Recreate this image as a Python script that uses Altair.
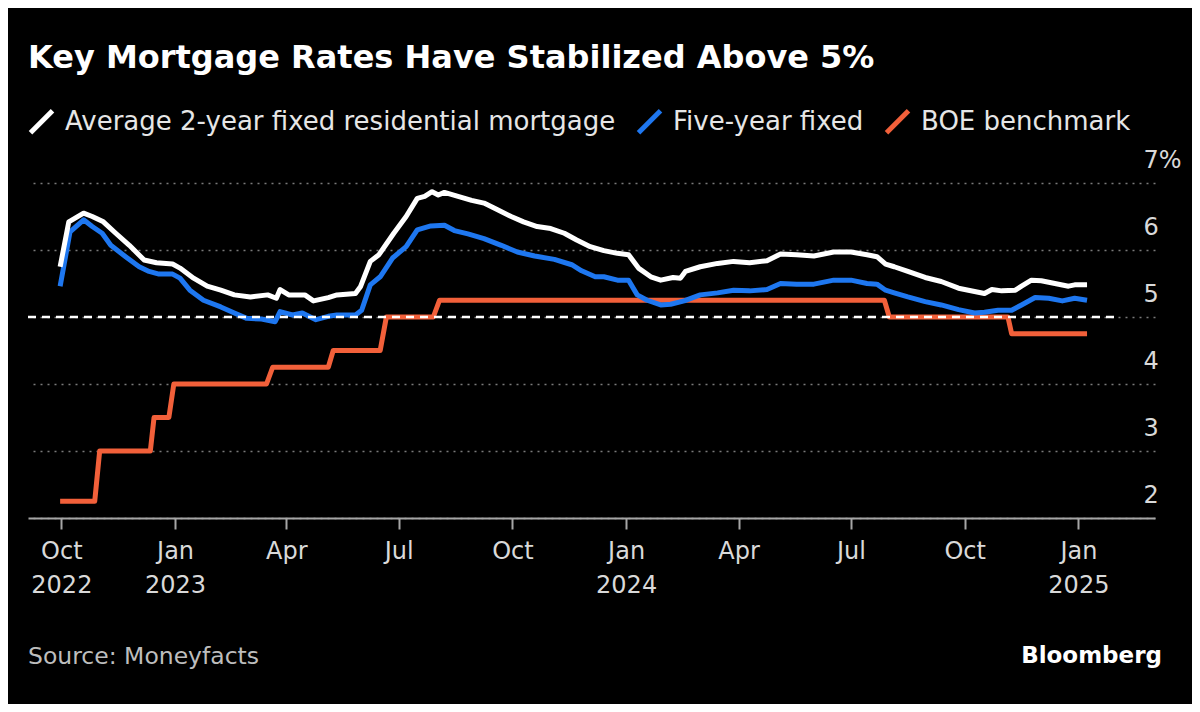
import altair as alt
import pandas as pd

# ---------------- data ----------------
two_year_dates = [
    "2022-09-30", "2022-10-07", "2022-10-19", "2022-10-26", "2022-11-04", "2022-11-14",
    "2022-11-25", "2022-12-07", "2022-12-17", "2022-12-30", "2023-01-05", "2023-01-16",
    "2023-01-27", "2023-02-07", "2023-02-18", "2023-03-03", "2023-03-17", "2023-03-24",
    "2023-03-27", "2023-04-03", "2023-04-16", "2023-04-23", "2023-05-05", "2023-05-12",
    "2023-05-27", "2023-05-31", "2023-06-08", "2023-06-15", "2023-06-27", "2023-07-07",
    "2023-07-16", "2023-07-22", "2023-07-28", "2023-08-02", "2023-08-07", "2023-08-18",
    "2023-08-29", "2023-09-08", "2023-09-19", "2023-09-30", "2023-10-10", "2023-10-21",
    "2023-11-01", "2023-11-12", "2023-11-22", "2023-12-03", "2023-12-14", "2023-12-25",
    "2024-01-03", "2024-01-11", "2024-01-21", "2024-01-29", "2024-02-08", "2024-02-14",
    "2024-02-18", "2024-03-01", "2024-03-15", "2024-03-28", "2024-04-10", "2024-04-24",
    "2024-05-05", "2024-05-18", "2024-06-01", "2024-06-17", "2024-07-01", "2024-07-14",
    "2024-07-22", "2024-07-29", "2024-08-05", "2024-08-16", "2024-08-30", "2024-09-12",
    "2024-09-26", "2024-10-09", "2024-10-17", "2024-10-23", "2024-10-31", "2024-11-11",
    "2024-11-16", "2024-11-24", "2024-12-02", "2024-12-13", "2024-12-24", "2024-12-29",
    "2025-01-08",
]
two_year_values = [
    5.75, 6.42, 6.55, 6.50, 6.42, 6.25,
    6.07, 5.85, 5.81, 5.79, 5.73, 5.58,
    5.46, 5.40, 5.33, 5.30, 5.33, 5.28,
    5.41, 5.33, 5.33, 5.24, 5.29, 5.33,
    5.35, 5.45, 5.83, 5.93, 6.25, 6.50,
    6.77, 6.80, 6.87, 6.82, 6.86, 6.80,
    6.74, 6.70, 6.60, 6.50, 6.42, 6.35,
    6.32, 6.25, 6.15, 6.05, 5.99, 5.95,
    5.93, 5.73, 5.60, 5.55, 5.59, 5.58,
    5.68, 5.75, 5.80, 5.83, 5.81, 5.84,
    5.94, 5.93, 5.91, 5.97, 5.97, 5.93,
    5.90, 5.79, 5.75, 5.68, 5.59, 5.53,
    5.43, 5.38, 5.35, 5.41, 5.39, 5.40,
    5.46, 5.55, 5.54, 5.50, 5.46, 5.48,
    5.48,
]

five_year_dates = [
    "2022-09-30", "2022-10-08", "2022-10-19", "2022-10-26", "2022-11-03", "2022-11-10",
    "2022-11-22", "2022-12-03", "2022-12-11", "2022-12-19", "2022-12-30", "2023-01-05",
    "2023-01-13", "2023-01-24", "2023-02-07", "2023-02-18", "2023-02-28", "2023-03-12",
    "2023-03-23", "2023-03-27", "2023-04-06", "2023-04-14", "2023-04-25", "2023-05-05",
    "2023-05-12", "2023-05-27", "2023-06-01", "2023-06-08", "2023-06-16", "2023-06-26",
    "2023-07-07", "2023-07-16", "2023-07-27", "2023-08-07", "2023-08-15", "2023-08-26",
    "2023-09-08", "2023-09-22", "2023-10-05", "2023-10-19", "2023-11-04", "2023-11-18",
    "2023-11-26", "2023-12-07", "2023-12-14", "2023-12-25", "2024-01-03", "2024-01-10",
    "2024-01-18", "2024-01-29", "2024-02-06", "2024-02-17", "2024-03-01", "2024-03-15",
    "2024-03-28", "2024-04-10", "2024-04-24", "2024-05-05", "2024-05-18", "2024-06-01",
    "2024-06-17", "2024-07-01", "2024-07-14", "2024-07-22", "2024-07-29", "2024-08-05",
    "2024-08-16", "2024-08-30", "2024-09-12", "2024-09-26", "2024-10-09", "2024-10-17",
    "2024-10-28", "2024-11-08", "2024-11-16", "2024-11-27", "2024-12-08", "2024-12-19",
    "2024-12-29", "2025-01-08",
]
five_year_values = [
    5.46, 6.27, 6.45, 6.35, 6.25, 6.07,
    5.90, 5.75, 5.68, 5.64, 5.64, 5.58,
    5.40, 5.25, 5.15, 5.06, 4.98, 4.97,
    4.93, 5.08, 5.03, 5.06, 4.96, 5.01,
    5.03, 5.03, 5.10, 5.48, 5.60, 5.88,
    6.05, 6.30, 6.36, 6.37, 6.29, 6.24,
    6.17, 6.07, 5.97, 5.91, 5.86, 5.78,
    5.69, 5.60, 5.60, 5.55, 5.55, 5.33,
    5.25, 5.18, 5.19, 5.24, 5.33, 5.36,
    5.40, 5.39, 5.41, 5.50, 5.49, 5.49,
    5.55, 5.55, 5.50, 5.49, 5.40, 5.36,
    5.30, 5.23, 5.18, 5.11, 5.06, 5.07,
    5.10, 5.10, 5.18, 5.29, 5.28, 5.24,
    5.28, 5.25,
]

boe_dates = [
    "2022-09-30", "2022-10-28", "2022-11-01", "2022-12-12", "2022-12-15", "2022-12-27",
    "2022-12-31", "2023-03-16", "2023-03-21", "2023-05-05", "2023-05-09", "2023-06-16",
    "2023-06-21", "2023-07-29", "2023-08-03", "2024-07-28", "2024-08-01", "2024-11-05",
    "2024-11-08", "2025-01-08",
]
boe_values = [
    2.25, 2.25, 3.00, 3.00, 3.50, 3.50,
    4.00, 4.00, 4.25, 4.25, 4.50, 4.50,
    5.00, 5.00, 5.25, 5.25, 5.00, 5.00,
    4.75, 4.75,
]

series_names = ["Average 2-year fixed residential mortgage", "Five-year fixed", "BOE benchmark"]
series_colors = ["#FFFFFF", "#1E77F0", "#F2603A"]

y_ticks = [2, 3, 4, 5, 6, 7]
x_ticks = ["2022-10-01", "2023-01-01", "2023-04-01", "2023-07-01", "2023-10-01",
           "2024-01-01", "2024-04-01", "2024-07-01", "2024-10-01", "2025-01-01"]
x_domain = ["2022-09-04", "2025-03-04"]

threshold_value = [5]
threshold_start = ["2022-09-04"]
threshold_end = ["2025-02-01"]

title_text = "Key Mortgage Rates Have Stabilized Above 5%"
source_text = "Source: Moneyfacts"
brand_text = "Bloomberg"

# ---------------- build tables ----------------
def ms(d):
    return int(pd.Timestamp(d, tz="UTC").value // 10**6)

frames = [
    pd.DataFrame({"date": boe_dates, "rate": boe_values, "series": series_names[2]}),
    pd.DataFrame({"date": five_year_dates, "rate": five_year_values, "series": series_names[1]}),
    pd.DataFrame({"date": two_year_dates, "rate": two_year_values, "series": series_names[0]}),
]
lines_df = pd.concat(frames, ignore_index=True)
thr_df = pd.DataFrame({"start": threshold_start, "end": threshold_end, "value": threshold_value})

FONT = "DejaVu Sans"

x_scale = alt.Scale(type="utc", domain=[ms(d) for d in x_domain])
y_scale = alt.Scale(domain=[2, 7], nice=False, zero=False)

label_expr = (
    "(utcFormat(datum.value, '%m') == '01' || utcFormat(datum.value, '%Y-%m') == '2022-10')"
    " ? [utcFormat(datum.value, '%b'), utcFormat(datum.value, '%Y')]"
    " : utcFormat(datum.value, '%b')"
)

x_axis = alt.Axis(
    values=[ms(d) for d in x_ticks], labelExpr=label_expr, title=None, grid=False,
    domainColor="#a6a6a6", domainWidth=2, tickColor="#a6a6a6", tickWidth=2, tickSize=11,
    labelFontSize=24, labelColor="#d9d9d9", labelFont=FONT, labelPadding=10,
    labelLineHeight=34, labelFlush=False, labelOverlap=False,
)
y_axis = alt.Axis(
    orient="right", values=y_ticks, format="d",
    labelExpr="datum.value == 7 ? '7%' : format(datum.value, 'd')",
    title=None, domain=False, ticks=False, grid=True, gridDash=[2, 5],
    gridColor="#7a7a7a", gridWidth=1.5, labelPadding=-12, labelAlign="left",
    labelBaseline="bottom", labelOffset=-11, labelFontSize=24, labelColor="#d9d9d9",
    labelFont=FONT,
)

legend = alt.Legend(
    orient="none", legendX=0, legendY=-75, direction="horizontal", title=None,
    symbolType="M-1,1L1,-1", symbolSize=484, symbolStrokeWidth=5,
    labelFontSize=26, labelColor="#e6e6e6", labelFont=FONT, labelOffset=10,
    columnPadding=12, padding=0, labelLimit=1000,
)

lines = alt.Chart(lines_df).mark_line(strokeWidth=5, strokeJoin="round").encode(
    x=alt.X("date:T", scale=x_scale, axis=x_axis),
    y=alt.Y("rate:Q", scale=y_scale, axis=y_axis),
    color=alt.Color("series:N", scale=alt.Scale(domain=series_names, range=series_colors),
                    legend=legend),
    detail="series:N",
)

threshold = alt.Chart(thr_df).mark_rule(color="#ffffff", strokeWidth=2.5, strokeDash=[8, 6]).encode(
    x=alt.X("start:T", scale=x_scale),
    x2="end:T",
    y=alt.Y("value:Q", scale=y_scale),
)

title = alt.Chart(pd.DataFrame({"t": [title_text]})).mark_text(
    align="left", baseline="alphabetic", font=FONT, fontSize=32, fontWeight="bold", color="#ffffff"
).encode(text="t:N", x=alt.value(0), y=alt.value(-115))

source = alt.Chart(pd.DataFrame({"t": [source_text]})).mark_text(
    align="left", baseline="alphabetic", font=FONT, fontSize=23.5, color="#bdbdbd"
).encode(text="t:N", x=alt.value(0), y=alt.value(481))

brand = alt.Chart(pd.DataFrame({"t": [brand_text]})).mark_text(
    align="right", baseline="alphabetic", font=FONT, fontSize=23, fontWeight="bold", color="#ffffff"
).encode(text="t:N", x=alt.value(1134), y=alt.value(480))

chart = alt.layer(lines, threshold, title, source, brand).properties(
    width=1127, height=335,
    autosize=alt.AutoSizeParams(type="none"),
    padding={"left": 20, "top": 175, "right": 37, "bottom": 186},
    background="#000000",
).configure(font=FONT).configure_view(strokeWidth=0)

chart.save("out.html", embed_options={"renderer": "svg", "actions": False})
